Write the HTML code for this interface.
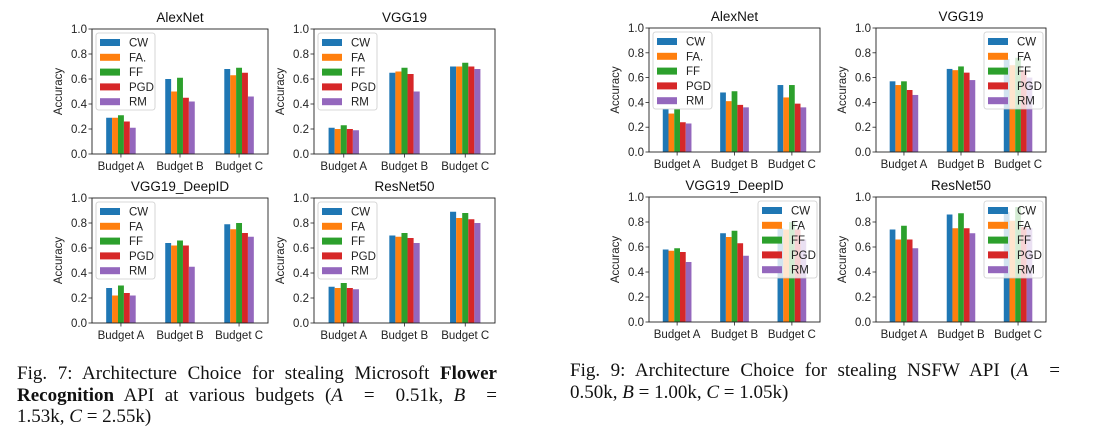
<!DOCTYPE html>
<html><head><meta charset="utf-8">
<style>
body{margin:0;background:#fff;width:1104px;height:434px;overflow:hidden;position:relative;}
svg{position:absolute;left:0;top:0;}
.cap{position:absolute;font-family:"Liberation Serif",serif;font-size:19px;line-height:21.5px;color:#111;}
.cap div{text-align:justify;text-align-last:justify;white-space:nowrap;}
.cap div.last{text-align-last:left;}
.cap div span{display:inline;}
</style></head><body>
<svg id="chart" width="1104" height="434" xmlns="http://www.w3.org/2000/svg" font-family="Liberation Sans, DejaVu Sans, sans-serif"></svg>
<div class="cap" style="left:17px;top:363px;width:480px;">
<div style="white-space:normal">Fig. 7: Architecture Choice for stealing Microsoft <b>Flower</b></div>
<div style="white-space:normal"><b>Recognition</b> API at various budgets (<i>A</i> &nbsp;= &nbsp;0.51k, <i>B</i> &nbsp;=</div>
<div class="last">1.53k, <i>C</i> = 2.55k)</div>
</div>
<div class="cap" style="left:570px;top:360px;width:490px;">
<div style="white-space:normal">Fig. 9: Architecture Choice for stealing NSFW API (<i>A</i> &nbsp;=</div>
<div class="last">0.50k, <i>B</i> = 1.00k, <i>C</i> = 1.05k)</div>
</div>
<script>
const categories = ["Budget A","Budget B","Budget C"];
const seriesNames = ["CW","FA","FF","PGD","RM"];
const yTicks = [0.0,0.2,0.4,0.6,0.8,1.0];
const colors = ["#1f77b4","#ff7f0e","#2ca02c","#d62728","#9467bd"];
// Fig 7 values [category][series]
const f7AlexNet = [[0.29,0.29,0.31,0.26,0.21],[0.60,0.50,0.61,0.45,0.42],[0.68,0.63,0.69,0.65,0.46]];
const f7VGG19 = [[0.21,0.20,0.23,0.20,0.19],[0.65,0.66,0.69,0.64,0.50],[0.70,0.70,0.73,0.70,0.68]];
const f7DeepID = [[0.28,0.22,0.30,0.24,0.22],[0.64,0.62,0.66,0.62,0.45],[0.79,0.75,0.80,0.72,0.69]];
const f7ResNet = [[0.29,0.28,0.32,0.28,0.27],[0.70,0.69,0.72,0.68,0.64],[0.89,0.84,0.88,0.83,0.80]];
// Fig 9 values
const f9AlexNet = [[0.37,0.31,0.37,0.24,0.23],[0.48,0.41,0.49,0.38,0.36],[0.54,0.44,0.54,0.39,0.36]];
const f9VGG19 = [[0.57,0.54,0.57,0.50,0.46],[0.67,0.66,0.69,0.64,0.58],[0.75,0.70,0.76,0.66,0.60]];
const f9DeepID = [[0.58,0.57,0.59,0.56,0.48],[0.71,0.68,0.73,0.63,0.53],[0.75,0.74,0.80,0.74,0.66]];
const f9ResNet = [[0.74,0.66,0.77,0.66,0.59],[0.86,0.75,0.87,0.75,0.71],[0.88,0.81,0.92,0.76,0.75]];

const NS="http://www.w3.org/2000/svg";
const svg=document.getElementById('chart');
function el(tag,attrs,parent){const e=document.createElementNS(NS,tag);for(const k in attrs)e.setAttribute(k,attrs[k]);(parent||svg).appendChild(e);return e;}

function plot(cfg){
  const {x0,x1,y0,y1,title,data,legendRight,faLabel,name}=cfg;
  const g=el('g',{});
  
  
  const xs=v=>x0+(v+0.49)/2.98*(x1-x0);
  const ys=v=>y1-v*(y1-y0);
  const bw=0.1/2.98*(x1-x0);
  const t=el('text',{x:(x0+x1)/2,y:y0-7,'text-anchor':'middle','font-size':13.5,fill:'#111'},g);t.textContent=title;
  
  
  yTicks.forEach(v=>{
    el('line',{x1:x0-3.5,x2:x0,y1:ys(v),y2:ys(v),stroke:'#222','stroke-width':0.8},g);
    const tl=el('text',{x:x0-5,y:ys(v)+4,'text-anchor':'end','font-size':11.5,fill:'#222'},g);tl.textContent=v.toFixed(1);
    
    
  });
  const yl=el('text',{x:0,y:0,transform:`translate(${x0-30},${(y0+y1)/2}) rotate(-90)`,'text-anchor':'middle','font-size':11.5,fill:'#222'},g);yl.textContent='Accuracy';
  
  
  categories.forEach((c,i)=>{
    data[i].forEach((v,s)=>{
      const cx=xs(i+(s-2)*0.1);
      const r=el('rect',{x:cx-bw/2,y:ys(v),width:bw,height:ys(0)-ys(v),fill:colors[s]},g);
      
      
    });
    el('line',{x1:xs(i),x2:xs(i),y1:y1,y2:y1+3.5,stroke:'#222','stroke-width':0.8},g);
    const xl=el('text',{x:xs(i),y:y1+16,'text-anchor':'middle','font-size':11.5,fill:'#222'},g);xl.textContent=c;
    
    
  });
  el('rect',{x:x0,y:y0,width:x1-x0,height:y1-y0,fill:'none',stroke:'#222','stroke-width':0.9},g);
  const lw=59,lh=77;
  const lx=legendRight?x1-3-lw:x0+4, ly=y0+4;
  const lg=el('g',{},g);
  
  
  el('rect',{x:lx,y:ly,width:lw,height:lh,rx:2.5,fill:'#fff','fill-opacity':legendRight?0.8:1,stroke:'#ccc','stroke-width':0.8},lg);
  seriesNames.forEach((n,s)=>{
    const ry=ly+9.5+s*14.8;
    el('rect',{x:lx+4,y:ry-3.5,width:20,height:7,fill:colors[s]},lg);
    const tx=el('text',{x:lx+33,y:ry+4,'font-size':11.5,fill:'#222'},lg);tx.textContent=(n==='FA'&&faLabel)?faLabel:n;
    
    
  });
}
plot({name:'fig7-alexnet',x0:92,x1:268,y0:29,y1:154,title:'AlexNet',data:f7AlexNet,faLabel:'FA.'});
plot({name:'fig7-vgg19',x0:314,x1:495,y0:29,y1:154,title:'VGG19',data:f7VGG19});
plot({name:'fig7-vgg19-deepid',x0:92,x1:268,y0:198,y1:323,title:'VGG19_DeepID',data:f7DeepID});
plot({name:'fig7-resnet50',x0:314,x1:495,y0:198,y1:323,title:'ResNet50',data:f7ResNet});
plot({name:'fig9-alexnet',x0:649,x1:820,y0:28,y1:152,title:'AlexNet',data:f9AlexNet,faLabel:'FA.',legendRight:false});
plot({name:'fig9-vgg19',x0:876,x1:1046,y0:28,y1:152,title:'VGG19',data:f9VGG19,legendRight:true});
plot({name:'fig9-vgg19-deepid',x0:649,x1:820,y0:197,y1:322,title:'VGG19_DeepID',data:f9DeepID,legendRight:true});
plot({name:'fig9-resnet50',x0:876,x1:1046,y0:197,y1:322,title:'ResNet50',data:f9ResNet,legendRight:true});
</script>
</body></html>
